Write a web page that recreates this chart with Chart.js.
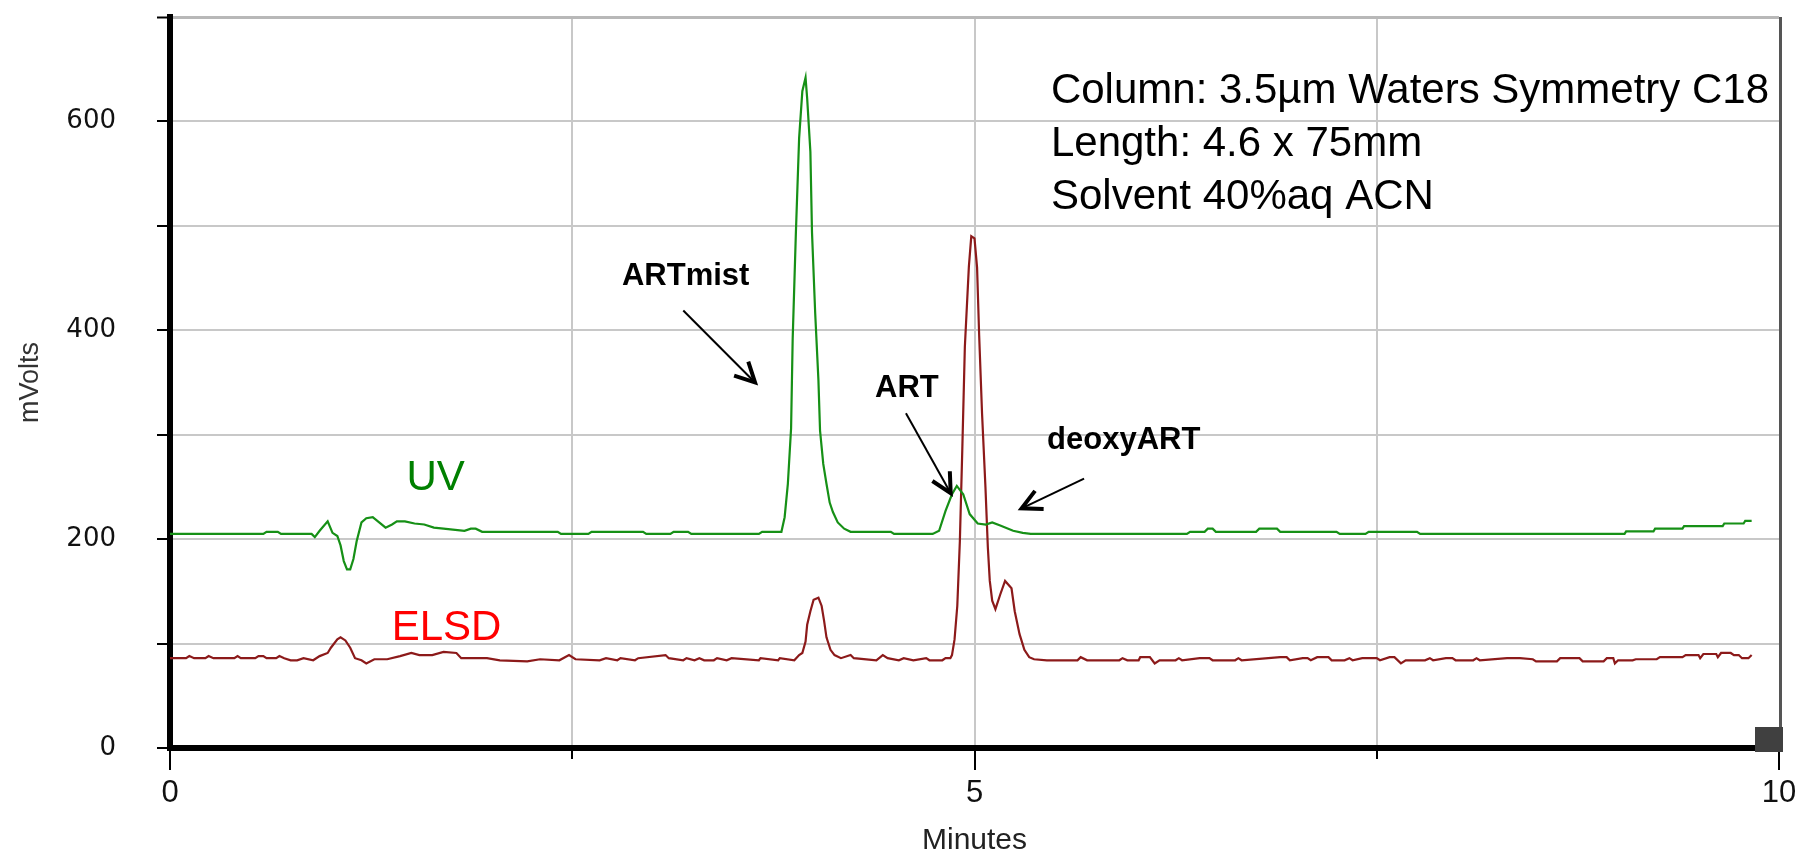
<!DOCTYPE html>
<html>
<head>
<meta charset="utf-8">
<title>HPLC – UV / ELSD</title>
<script src="https://cdn.jsdelivr.net/npm/chart.js@4.4.1/dist/chart.umd.min.js"></script>
<style>
  html, body { margin: 0; padding: 0; background: #fff; }
  #wrap { position: relative; width: 1795px; height: 850px; }
</style>
</head>
<body>
<div id="wrap"><canvas id="chromChart"></canvas></div>
<script>
"use strict";

// UV trace: retention time (min) / signal (mV)
var uvTime = [
  0, 0.58, 0.60, 0.67, 0.69, 0.88, 0.90, 0.93, 0.98, 1.01,
  1.04, 1.06, 1.08, 1.10, 1.12, 1.14, 1.16, 1.19, 1.22, 1.26,
  1.30, 1.34, 1.38, 1.41, 1.46, 1.52, 1.58, 1.64, 1.70, 1.83,
  1.87, 1.90, 1.94, 2.41, 2.43, 2.60, 2.62, 2.94, 2.96, 3.11,
  3.13, 3.22, 3.24, 3.66, 3.68, 3.80, 3.82, 3.84, 3.86, 3.87,
  3.89, 3.91, 3.93, 3.95, 3.96, 3.98, 3.99, 4.01, 4.03, 4.04,
  4.06, 4.08, 4.10, 4.12, 4.15, 4.19, 4.23, 4.48, 4.50, 4.74,
  4.78, 4.82, 4.86, 4.89, 4.93, 4.97, 5.02, 5.07, 5.11, 5.16,
  5.24, 5.30, 5.35, 6.32, 6.34, 6.43, 6.45, 6.48, 6.50, 6.75,
  6.77, 6.88, 6.90, 7.25, 7.27, 7.43, 7.45, 7.75, 7.77, 9.04,
  9.05, 9.22, 9.23, 9.40, 9.41, 9.65, 9.66, 9.78, 9.79, 9.83
];
var uvMv = [
  205, 205, 207, 207, 205, 205, 202, 208, 217, 206,
  203, 194, 179, 171, 171, 181, 198, 216, 220, 221,
  216, 211, 214, 217, 217, 215, 214, 211, 210, 208,
  210, 210, 207, 207, 205, 205, 207, 207, 205, 205,
  207, 207, 205, 205, 207, 207, 221, 253, 306, 392,
  494, 584, 629, 642, 622, 571, 494, 416, 352, 304,
  272, 253, 235, 226, 216, 210, 207, 207, 205, 205,
  208, 227, 243, 251, 243, 224, 215, 214, 216, 213,
  208, 206, 205, 205, 207, 207, 210, 210, 207, 207,
  210, 210, 207, 207, 205, 205, 207, 207, 205, 205,
  207.5, 207.5, 210, 210, 212.5, 212.5, 215, 215, 217.5, 217.5
];

// ELSD trace: retention time (min) / signal (mV)
var elsdTime = [
  0, 0.10, 0.12, 0.15, 0.22, 0.24, 0.27, 0.40, 0.42, 0.44,
  0.53, 0.55, 0.58, 0.60, 0.66, 0.68, 0.71, 0.75, 0.79, 0.83,
  0.89, 0.93, 0.98, 1.00, 1.04, 1.06, 1.09, 1.12, 1.15, 1.19,
  1.22, 1.27, 1.35, 1.43, 1.50, 1.55, 1.63, 1.70, 1.78, 1.81,
  1.97, 2.05, 2.22, 2.30, 2.42, 2.48, 2.52, 2.67, 2.71, 2.78,
  2.80, 2.89, 2.91, 3.08, 3.10, 3.19, 3.21, 3.26, 3.29, 3.32,
  3.38, 3.40, 3.46, 3.49, 3.66, 3.67, 3.78, 3.79, 3.88, 3.91,
  3.93, 3.95, 3.96, 3.98, 4.00, 4.03, 4.05, 4.065, 4.08, 4.105,
  4.13, 4.17, 4.23, 4.25, 4.39, 4.43, 4.46, 4.53, 4.56, 4.62,
  4.70, 4.72, 4.80, 4.82, 4.85, 4.86, 4.876, 4.893, 4.909, 4.924,
  4.94, 4.965, 4.98, 5.00, 5.016, 5.029, 5.047, 5.068, 5.083, 5.095,
  5.11, 5.13, 5.16, 5.19, 5.23, 5.25, 5.28, 5.31, 5.34, 5.37,
  5.45, 5.64, 5.66, 5.70, 5.90, 5.92, 5.95, 6.02, 6.03, 6.09,
  6.12, 6.15, 6.25, 6.27, 6.29, 6.40, 6.46, 6.48, 6.62, 6.64,
  6.66, 6.90, 6.94, 6.96, 7.04, 7.07, 7.09, 7.13, 7.20, 7.22,
  7.30, 7.33, 7.35, 7.41, 7.50, 7.52, 7.58, 7.61, 7.65, 7.68,
  7.80, 7.83, 7.85, 7.93, 7.97, 7.99, 8.10, 8.12, 8.14, 8.31,
  8.39, 8.47, 8.49, 8.62, 8.64, 8.76, 8.78, 8.91, 8.93, 8.97,
  8.98, 9.00, 9.09, 9.11, 9.24, 9.26, 9.40, 9.42, 9.50, 9.51,
  9.53, 9.61, 9.62, 9.64, 9.70, 9.72, 9.75, 9.77, 9.81, 9.83
];
var elsdMv = [
  86, 86, 88, 86, 86, 88, 86, 86, 88, 86,
  86, 88, 88, 86, 86, 88, 86, 84, 84, 86,
  84, 88, 91, 96, 104, 106, 103, 96, 86, 84,
  81, 85, 85, 88, 91, 89, 89, 92, 91, 86,
  86, 84, 83, 85, 84, 89, 85, 84, 86, 84,
  86, 84, 86, 89, 86, 84, 86, 84, 86, 84,
  84, 86, 84, 86, 84, 86, 84, 86, 84, 89,
  91, 102, 118, 131, 142, 144, 136, 122, 106, 94,
  89, 86, 89, 86, 84, 89, 86, 84, 86, 84,
  86, 84, 84, 86, 86, 89, 104, 136, 198, 285,
  384, 461, 490, 488, 460, 395, 320, 250, 192, 160,
  141, 133, 147, 160, 153, 131, 109, 94, 87, 85,
  84, 84, 87, 84, 84, 86, 84, 84, 87, 87,
  81, 84, 84, 86, 84, 86, 86, 84, 84, 86,
  84, 87, 87, 84, 86, 86, 84, 87, 87, 84,
  84, 86, 84, 86, 86, 84, 87, 87, 81, 84,
  84, 86, 84, 86, 86, 84, 84, 86, 84, 86,
  86, 85, 83, 83, 86, 86, 83, 83, 86, 86,
  81, 84, 84, 85, 85, 87, 87, 89, 89, 86,
  90, 90, 87, 91, 91, 89, 89, 86, 86, 89
];

// axes
var xLabelTicks = [0, 5, 10];
var yLabelTicks = [0, 200, 400, 600];

// run conditions, top right
var conditionLines = ['Column: 3.5\u00b5m Waters Symmetry C18', 'Length: 4.6 x 75mm', 'Solvent 40%aq ACN'];
var conditionAt = [5.475, 618];

// trace names, placed in minutes / mV
var traceNames = ['UV', 'ELSD'];
var traceNameAt = [[1.47, 247], [1.378, 103]];
var traceNameColors = ['#008000', '#ff0000'];

// peak callouts: label anchor, arrow tail, arrow tip (minutes / mV)
var peakNames = ['ARTmist', 'ART', 'deoxyART'];
var peakLabelAt = [[2.809, 443], [4.382, 336], [5.451, 286]];
var peakArrowFrom = [[3.19, 419], [4.574, 320.5], [5.681, 258]];
var peakArrowTo = [[3.636, 350], [4.852, 244], [5.293, 229.5]];

var SANS = "'Liberation Sans', Arial, sans-serif";

function pairs(xs, ys) {
  return xs.map(function(x, i) { return { x: x, y: ys[i] }; });
}

function drawArrow(ctx, x0, y0, x1, y1) {
  var ang = Math.atan2(y0 - y1, x0 - x1);
  var spread = 27 * Math.PI / 180, len = 22;
  ctx.lineWidth = 2;
  ctx.beginPath();
  ctx.moveTo(x0, y0);
  ctx.lineTo(x1, y1);
  ctx.stroke();
  ctx.lineWidth = 4;
  ctx.lineCap = 'butt';
  ctx.lineJoin = 'miter';
  ctx.beginPath();
  ctx.moveTo(x1 + len * Math.cos(ang - spread), y1 + len * Math.sin(ang - spread));
  ctx.lineTo(x1, y1);
  ctx.lineTo(x1 + len * Math.cos(ang + spread), y1 + len * Math.sin(ang + spread));
  ctx.stroke();
}

var chromDecor = {
  id: 'chromDecor',
  afterDraw: function(chart) {
    var ctx = chart.ctx, xs = chart.scales.x, ys = chart.scales.y, area = chart.chartArea;
    ctx.save();

    // short ticks for the unlabeled quarter marks
    ctx.strokeStyle = '#000';
    ctx.lineWidth = 2;
    xs.ticks.forEach(function(tk) {
      if (xLabelTicks.indexOf(tk.value) >= 0) return;
      var px = Math.round(xs.getPixelForValue(tk.value));
      ctx.beginPath();
      ctx.moveTo(px, area.bottom + 3);
      ctx.lineTo(px, area.bottom + 11);
      ctx.stroke();
    });

    // right frame edge and the corner block
    ctx.strokeStyle = '#555';
    ctx.lineWidth = 3;
    ctx.beginPath();
    ctx.moveTo(area.right + 1.5, area.top);
    ctx.lineTo(area.right + 1.5, area.bottom + 3);
    ctx.stroke();
    ctx.fillStyle = '#404040';
    ctx.fillRect(area.right - 24, area.bottom - 21, 28, 25);

    // run conditions
    ctx.fillStyle = '#000';
    ctx.textAlign = 'left';
    ctx.textBaseline = 'alphabetic';
    ctx.font = '42px ' + SANS;
    var cx = xs.getPixelForValue(conditionAt[0]);
    var cy = ys.getPixelForValue(conditionAt[1]);
    conditionLines.forEach(function(line, i) {
      ctx.fillText(line, cx, cy + i * 53);
    });

    // trace names
    traceNames.forEach(function(name, i) {
      ctx.fillStyle = traceNameColors[i];
      ctx.fillText(name, xs.getPixelForValue(traceNameAt[i][0]), ys.getPixelForValue(traceNameAt[i][1]));
    });

    // peak callouts
    ctx.fillStyle = '#000';
    ctx.strokeStyle = '#000';
    ctx.font = 'bold 31px ' + SANS;
    peakNames.forEach(function(name, i) {
      ctx.fillText(name, xs.getPixelForValue(peakLabelAt[i][0]), ys.getPixelForValue(peakLabelAt[i][1]));
      drawArrow(ctx,
        xs.getPixelForValue(peakArrowFrom[i][0]), ys.getPixelForValue(peakArrowFrom[i][1]),
        xs.getPixelForValue(peakArrowTo[i][0]), ys.getPixelForValue(peakArrowTo[i][1]));
    });

    ctx.restore();
  }
};

new Chart(document.getElementById('chromChart'), {
  type: 'scatter',
  data: {
    datasets: [
      {
        label: 'UV',
        data: pairs(uvTime, uvMv),
        showLine: true,
        borderColor: '#169016',
        borderWidth: 2.2,
        pointRadius: 0,
        tension: 0
      },
      {
        label: 'ELSD',
        data: pairs(elsdTime, elsdMv),
        showLine: true,
        borderColor: '#8c1a1a',
        borderWidth: 2.2,
        pointRadius: 0,
        tension: 0
      }
    ]
  },
  options: {
    responsive: true,
    maintainAspectRatio: false,
    animation: false,
    devicePixelRatio: 1,
    layout: { padding: { left: 0, right: 16, top: 17, bottom: 0 } },
    plugins: {
      legend: { display: false },
      tooltip: { enabled: false }
    },
    scales: {
      x: {
        type: 'linear',
        min: 0,
        max: 10,
        ticks: {
          stepSize: 2.5,
          autoSkip: false,
          maxRotation: 0,
          padding: 5,
          color: '#111',
          font: { family: SANS, size: 31 },
          callback: function(v) { return xLabelTicks.indexOf(v) >= 0 ? String(v) : ''; }
        },
        grid: {
          color: function(c) { return c.tick && c.tick.value === 10 ? 'rgba(0,0,0,0)' : '#c8c8c8'; },
          lineWidth: 2,
          tickLength: 22,
          tickWidth: 2,
          tickColor: function(c) { return c.tick && xLabelTicks.indexOf(c.tick.value) >= 0 ? '#000' : 'rgba(0,0,0,0)'; }
        },
        border: { display: true, color: '#000', width: 6 },
        title: {
          display: true,
          text: 'Minutes',
          color: '#222',
          font: { family: SANS, size: 30, lineHeight: 0.6 },
          padding: { top: 0, bottom: 0 }
        },
        afterFit: function(s) { s.height = 102; s.paddingLeft = 0; s.paddingRight = 0; }
      },
      y: {
        type: 'linear',
        min: 0,
        max: 700,
        ticks: {
          stepSize: 100,
          padding: 41,
          color: '#111',
          font: { family: "'DejaVu Sans', sans-serif", size: 26 },
          callback: function(v) { return yLabelTicks.indexOf(v) >= 0 ? String(v) : ''; }
        },
        grid: {
          color: function(c) { return c.tick && c.tick.value === 700 ? '#b8b8b8' : '#c8c8c8'; },
          lineWidth: function(c) { return c.tick && c.tick.value === 700 ? 3 : 2; },
          tickLength: 13,
          tickWidth: 2,
          tickColor: '#000'
        },
        border: { display: true, color: '#000', width: 6 },
        title: {
          display: true,
          text: 'mVolts',
          color: '#333',
          font: { family: SANS, size: 27 },
          padding: { top: 14, bottom: 0 }
        },
        afterFit: function(s) { s.width = 170; s.paddingTop = 0; s.paddingBottom = 0; }
      }
    }
  },
  plugins: [chromDecor]
});
</script>
</body>
</html>
